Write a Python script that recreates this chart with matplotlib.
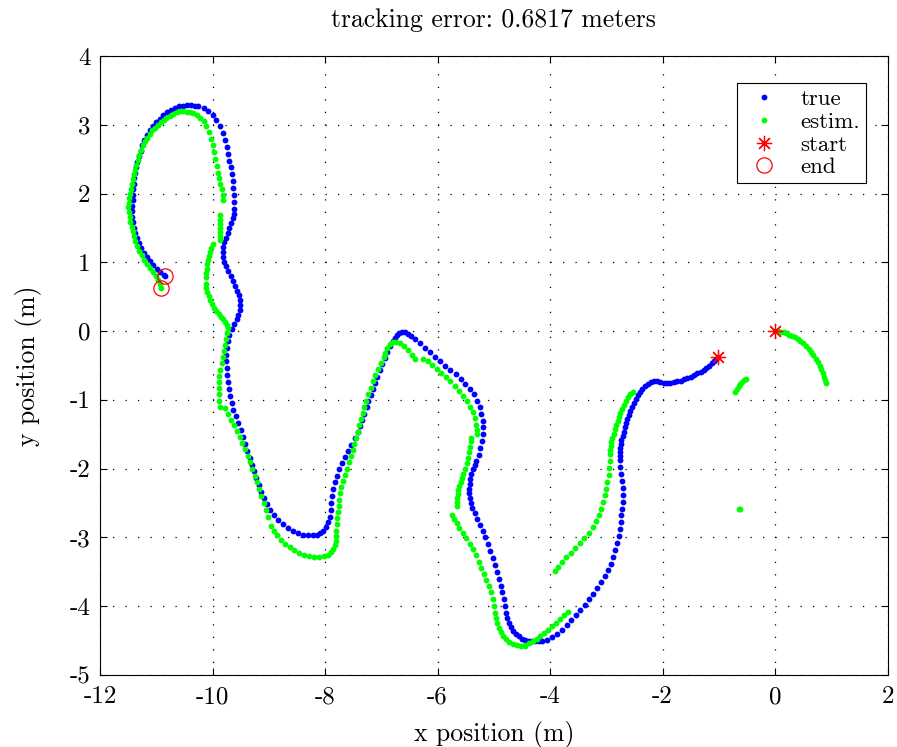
import numpy as np
import matplotlib
matplotlib.use("Agg")
import matplotlib.pyplot as plt

# true trajectory (start -> end)
true_xy = [
    (-1.01, -0.38), (-1.05, -0.41), (-1.09, -0.44), (-1.13, -0.47), (-1.17, -0.50), (-1.22, -0.53),
    (-1.27, -0.56), (-1.32, -0.59), (-1.38, -0.61), (-1.44, -0.64), (-1.50, -0.66), (-1.56, -0.68),
    (-1.62, -0.70), (-1.68, -0.72), (-1.74, -0.73), (-1.80, -0.74), (-1.86, -0.75), (-1.92, -0.75),
    (-1.98, -0.75), (-2.04, -0.74), (-2.10, -0.73), (-2.16, -0.72), (-2.21, -0.74), (-2.26, -0.77),
    (-2.31, -0.80), (-2.36, -0.84), (-2.40, -0.88), (-2.44, -0.93), (-2.48, -0.98), (-2.51, -1.04),
    (-2.54, -1.10), (-2.57, -1.16), (-2.60, -1.22), (-2.63, -1.28), (-2.65, -1.34), (-2.67, -1.40),
    (-2.69, -1.46), (-2.71, -1.52), (-2.73, -1.58), (-2.74, -1.64), (-2.75, -1.70), (-2.76, -1.76),
    (-2.76, -1.82), (-2.76, -1.88), (-2.75, -1.98), (-2.74, -2.08), (-2.72, -2.18), (-2.71, -2.28),
    (-2.71, -2.38), (-2.71, -2.48), (-2.72, -2.58), (-2.73, -2.68), (-2.74, -2.78), (-2.76, -2.88),
    (-2.78, -2.98), (-2.81, -3.08), (-2.84, -3.18), (-2.88, -3.28), (-2.92, -3.38), (-2.97, -3.47),
    (-3.03, -3.56), (-3.09, -3.65), (-3.16, -3.74), (-3.23, -3.82), (-3.30, -3.90), (-3.38, -3.98),
    (-3.46, -4.06), (-3.54, -4.13), (-3.62, -4.20), (-3.70, -4.27), (-3.78, -4.34), (-3.87, -4.40),
    (-3.96, -4.45), (-4.05, -4.49), (-4.14, -4.51), (-4.20, -4.51), (-4.26, -4.51), (-4.32, -4.51),
    (-4.38, -4.50), (-4.44, -4.49), (-4.50, -4.47), (-4.56, -4.44), (-4.61, -4.41), (-4.66, -4.36),
    (-4.70, -4.30), (-4.73, -4.24), (-4.76, -4.17), (-4.78, -4.10), (-4.80, -4.00), (-4.82, -3.90),
    (-4.85, -3.80), (-4.88, -3.70), (-4.91, -3.60), (-4.94, -3.50), (-4.98, -3.40), (-5.02, -3.30),
    (-5.07, -3.20), (-5.11, -3.10), (-5.15, -3.00), (-5.19, -2.91), (-5.24, -2.82), (-5.29, -2.73),
    (-5.34, -2.64), (-5.38, -2.57), (-5.41, -2.50), (-5.43, -2.43), (-5.44, -2.36), (-5.44, -2.29),
    (-5.43, -2.22), (-5.42, -2.15), (-5.40, -2.08), (-5.37, -2.01), (-5.34, -1.95), (-5.31, -1.89),
    (-5.27, -1.80), (-5.24, -1.70), (-5.21, -1.60), (-5.19, -1.50), (-5.19, -1.40), (-5.20, -1.30),
    (-5.22, -1.20), (-5.25, -1.10), (-5.30, -1.01), (-5.36, -0.92), (-5.43, -0.84), (-5.51, -0.77),
    (-5.59, -0.70), (-5.68, -0.63), (-5.77, -0.57), (-5.86, -0.50), (-5.95, -0.44), (-6.04, -0.37),
    (-6.13, -0.31), (-6.22, -0.24), (-6.31, -0.18), (-6.40, -0.12), (-6.48, -0.07), (-6.53, -0.04),
    (-6.58, -0.02), (-6.63, -0.01), (-6.68, -0.03), (-6.72, -0.06), (-6.76, -0.10), (-6.80, -0.15),
    (-6.84, -0.21), (-6.89, -0.30), (-6.94, -0.39), (-6.98, -0.48), (-7.03, -0.57), (-7.07, -0.66),
    (-7.11, -0.75), (-7.15, -0.84), (-7.19, -0.93), (-7.23, -1.02), (-7.26, -1.11), (-7.30, -1.20),
    (-7.34, -1.29), (-7.38, -1.38), (-7.42, -1.47), (-7.47, -1.56), (-7.53, -1.65), (-7.59, -1.74),
    (-7.64, -1.83), (-7.70, -1.92), (-7.75, -2.01), (-7.79, -2.10), (-7.83, -2.20), (-7.86, -2.30),
    (-7.88, -2.40), (-7.89, -2.50), (-7.90, -2.60), (-7.91, -2.70), (-7.94, -2.78), (-7.98, -2.85),
    (-8.03, -2.90), (-8.09, -2.94), (-8.15, -2.96), (-8.21, -2.97), (-8.30, -2.97), (-8.39, -2.96),
    (-8.48, -2.93), (-8.57, -2.90), (-8.66, -2.86), (-8.75, -2.81), (-8.83, -2.75), (-8.91, -2.68),
    (-8.98, -2.60), (-9.04, -2.52), (-9.09, -2.43), (-9.14, -2.34), (-9.18, -2.24), (-9.22, -2.14),
    (-9.26, -2.04), (-9.30, -1.94), (-9.34, -1.84), (-9.38, -1.74), (-9.42, -1.64), (-9.46, -1.54),
    (-9.50, -1.44), (-9.55, -1.34), (-9.59, -1.24), (-9.63, -1.14), (-9.66, -1.04), (-9.69, -0.94),
    (-9.71, -0.84), (-9.73, -0.74), (-9.74, -0.64), (-9.75, -0.54), (-9.76, -0.44), (-9.76, -0.34),
    (-9.75, -0.24), (-9.73, -0.14), (-9.70, -0.05), (-9.66, 0.03), (-9.61, 0.10), (-9.57, 0.17),
    (-9.54, 0.24), (-9.52, 0.31), (-9.51, 0.38), (-9.51, 0.45), (-9.53, 0.52), (-9.56, 0.59),
    (-9.60, 0.66), (-9.64, 0.73), (-9.68, 0.80), (-9.72, 0.87), (-9.76, 0.94), (-9.79, 1.01),
    (-9.81, 1.08), (-9.82, 1.15), (-9.81, 1.22), (-9.79, 1.29), (-9.76, 1.36), (-9.73, 1.43),
    (-9.70, 1.50), (-9.67, 1.57), (-9.64, 1.64), (-9.62, 1.71), (-9.61, 1.78), (-9.61, 1.88),
    (-9.62, 1.98), (-9.63, 2.08), (-9.64, 2.18), (-9.66, 2.28), (-9.68, 2.38), (-9.70, 2.48),
    (-9.72, 2.58), (-9.75, 2.68), (-9.78, 2.78), (-9.82, 2.88), (-9.87, 2.98), (-9.93, 3.07),
    (-10.00, 3.14), (-10.08, 3.20), (-10.16, 3.24), (-10.25, 3.27), (-10.32, 3.28), (-10.39, 3.29),
    (-10.46, 3.29), (-10.53, 3.28), (-10.60, 3.27), (-10.67, 3.25), (-10.74, 3.22), (-10.81, 3.18),
    (-10.88, 3.14), (-10.94, 3.09), (-11.00, 3.04), (-11.06, 2.98), (-11.11, 2.92), (-11.16, 2.85),
    (-11.21, 2.78), (-11.25, 2.70), (-11.28, 2.62), (-11.31, 2.54), (-11.34, 2.46), (-11.36, 2.38),
    (-11.38, 2.30), (-11.39, 2.22), (-11.40, 2.14), (-11.41, 2.06), (-11.42, 1.98), (-11.42, 1.90),
    (-11.43, 1.82), (-11.43, 1.74), (-11.43, 1.66), (-11.42, 1.58), (-11.40, 1.50), (-11.38, 1.42),
    (-11.35, 1.35), (-11.31, 1.28), (-11.27, 1.21), (-11.22, 1.14), (-11.17, 1.08), (-11.11, 1.02),
    (-11.05, 0.96), (-10.99, 0.91), (-10.93, 0.86), (-10.87, 0.82), (-10.84, 0.80),
]

# estimated trajectory (only where the filter had an estimate)
estim_xy = [
    (0.00, 0.00), (0.05, 0.00), (0.10, -0.01), (0.15, -0.02), (0.20, -0.03), (0.25, -0.05),
    (0.30, -0.07), (0.35, -0.09), (0.40, -0.12), (0.45, -0.15), (0.50, -0.18), (0.55, -0.22),
    (0.60, -0.26), (0.64, -0.30), (0.68, -0.35), (0.72, -0.40), (0.76, -0.45), (0.79, -0.50),
    (0.82, -0.55), (0.85, -0.61), (0.87, -0.66), (0.89, -0.71), (0.91, -0.75),
    (-0.71, -0.88), (-0.68, -0.84), (-0.65, -0.80), (-0.62, -0.77), (-0.59, -0.74), (-0.55, -0.71),
    (-0.52, -0.69),
    (-0.65, -2.58), (-0.63, -2.58),
    (-2.53, -0.88), (-2.57, -0.92), (-2.61, -0.96), (-2.65, -1.01), (-2.69, -1.07), (-2.72, -1.13),
    (-2.75, -1.19), (-2.78, -1.25), (-2.80, -1.31), (-2.82, -1.37), (-2.85, -1.43), (-2.87, -1.49),
    (-2.89, -1.55), (-2.91, -1.61), (-2.92, -1.67), (-2.93, -1.73), (-2.93, -1.79), (-2.94, -1.89),
    (-2.95, -1.99), (-2.96, -2.09), (-2.98, -2.19), (-3.00, -2.29), (-3.02, -2.39), (-3.05, -2.49),
    (-3.09, -2.58), (-3.13, -2.67), (-3.18, -2.76), (-3.24, -2.85), (-3.31, -2.93), (-3.39, -3.01),
    (-3.47, -3.08), (-3.55, -3.15), (-3.63, -3.22), (-3.71, -3.29), (-3.79, -3.36), (-3.86, -3.43),
    (-3.91, -3.49),
    (-4.45, -4.56), (-4.38, -4.53), (-4.31, -4.50), (-4.24, -4.47), (-4.17, -4.43), (-4.10, -4.39),
    (-4.03, -4.34), (-3.96, -4.29), (-3.89, -4.24), (-3.82, -4.19), (-3.75, -4.13), (-3.68, -4.08),
    (-4.45, -4.58), (-4.52, -4.58), (-4.59, -4.57), (-4.66, -4.55), (-4.73, -4.52), (-4.79, -4.48),
    (-4.84, -4.43), (-4.88, -4.37), (-4.91, -4.31), (-4.94, -4.24), (-4.96, -4.17), (-4.98, -4.10),
    (-5.00, -4.00), (-5.02, -3.90), (-5.05, -3.80), (-5.09, -3.71), (-5.13, -3.62), (-5.17, -3.53),
    (-5.22, -3.44), (-5.27, -3.35), (-5.32, -3.26), (-5.37, -3.17), (-5.43, -3.09), (-5.49, -3.01),
    (-5.55, -2.93), (-5.61, -2.86), (-5.66, -2.79), (-5.71, -2.73), (-5.75, -2.67),
    (-5.65, -2.55), (-5.65, -2.49), (-5.65, -2.43), (-5.64, -2.37), (-5.63, -2.31), (-5.61, -2.25),
    (-5.59, -2.19), (-5.57, -2.13), (-5.55, -2.08), (-5.51, -2.00), (-5.48, -1.92), (-5.46, -1.84),
    (-5.44, -1.76), (-5.42, -1.68), (-5.41, -1.60), (-5.40, -1.55),
    (-6.25, -0.40), (-6.17, -0.44), (-6.09, -0.49), (-6.01, -0.55), (-5.93, -0.61), (-5.85, -0.67),
    (-5.77, -0.73), (-5.69, -0.80), (-5.62, -0.87), (-5.55, -0.94), (-5.48, -1.02), (-5.42, -1.10),
    (-5.37, -1.18), (-5.33, -1.27), (-5.31, -1.36), (-5.30, -1.44), (-5.29, -1.50),
    (-6.40, -0.40), (-6.46, -0.34), (-6.53, -0.27), (-6.60, -0.21), (-6.67, -0.17), (-6.73, -0.16),
    (-6.79, -0.16), (-6.84, -0.19), (-6.89, -0.25), (-6.94, -0.32), (-6.96, -0.37), (-7.01, -0.46),
    (-7.06, -0.55), (-7.11, -0.64), (-7.15, -0.73), (-7.19, -0.82), (-7.23, -0.91), (-7.27, -1.01),
    (-7.30, -1.10), (-7.33, -1.19), (-7.36, -1.28), (-7.39, -1.37), (-7.42, -1.46), (-7.45, -1.55),
    (-7.48, -1.64), (-7.51, -1.73), (-7.54, -1.82), (-7.57, -1.91), (-7.61, -2.00), (-7.65, -2.09),
    (-7.68, -2.18), (-7.71, -2.27), (-7.73, -2.36), (-7.75, -2.45), (-7.76, -2.54), (-7.77, -2.63),
    (-7.78, -2.72), (-7.79, -2.81), (-7.80, -2.90), (-7.80, -2.98), (-7.81, -3.05), (-7.83, -3.11),
    (-7.86, -3.17), (-7.90, -3.21), (-7.95, -3.25), (-8.02, -3.27), (-8.10, -3.28), (-8.19, -3.28),
    (-8.28, -3.27), (-8.37, -3.25), (-8.46, -3.22), (-8.55, -3.18), (-8.63, -3.14), (-8.71, -3.09),
    (-8.78, -3.03), (-8.85, -2.97), (-8.91, -2.90), (-8.96, -2.84),
    (-9.01, -2.70), (-9.05, -2.60), (-9.09, -2.50), (-9.13, -2.40), (-9.17, -2.30), (-9.21, -2.20),
    (-9.25, -2.10), (-9.29, -2.00), (-9.33, -1.90), (-9.37, -1.81), (-9.42, -1.72), (-9.47, -1.63),
    (-9.52, -1.54), (-9.57, -1.45), (-9.62, -1.37), (-9.67, -1.29), (-9.72, -1.21), (-9.78, -1.12),
    (-9.87, -1.10), (-9.88, -1.01), (-9.89, -0.92), (-9.89, -0.83), (-9.89, -0.74), (-9.88, -0.65),
    (-9.86, -0.56), (-9.84, -0.47), (-9.82, -0.38), (-9.80, -0.29), (-9.78, -0.20), (-9.76, -0.11),
    (-9.74, -0.03), (-9.73, 0.04), (-9.74, 0.09), (-9.77, 0.13), (-9.81, 0.17), (-9.85, 0.21),
    (-9.89, 0.25), (-9.93, 0.29), (-9.97, 0.34), (-10.01, 0.39), (-10.04, 0.45), (-10.07, 0.51),
    (-10.09, 0.57), (-10.11, 0.63), (-10.12, 0.69),
    (-10.11, 0.79), (-10.11, 0.85), (-10.10, 0.91), (-10.09, 0.97), (-10.08, 1.03), (-10.06, 1.09),
    (-10.04, 1.15), (-10.02, 1.21), (-10.00, 1.27),
    (-9.87, 1.32), (-9.87, 1.38), (-9.87, 1.44), (-9.87, 1.50), (-9.87, 1.56), (-9.87, 1.62),
    (-9.87, 1.69),
    (-9.81, 1.90), (-9.82, 1.98), (-9.84, 2.06), (-9.86, 2.14), (-9.88, 2.22), (-9.90, 2.30),
    (-9.92, 2.40), (-9.95, 2.50), (-9.97, 2.60), (-10.00, 2.70), (-10.03, 2.80), (-10.06, 2.90),
    (-10.11, 2.98), (-10.16, 3.05), (-10.22, 3.10), (-10.28, 3.14), (-10.34, 3.17), (-10.40, 3.18),
    (-10.46, 3.19), (-10.52, 3.20), (-10.58, 3.20), (-10.64, 3.18), (-10.70, 3.16), (-10.76, 3.13),
    (-10.82, 3.10), (-10.87, 3.07), (-10.92, 3.04), (-10.97, 3.00), (-11.02, 2.96), (-11.07, 2.92),
    (-11.12, 2.87), (-11.16, 2.81), (-11.20, 2.76), (-11.24, 2.70), (-11.27, 2.63), (-11.30, 2.56),
    (-11.33, 2.49), (-11.36, 2.42), (-11.38, 2.35), (-11.40, 2.28), (-11.42, 2.21), (-11.44, 2.14),
    (-11.45, 2.07), (-11.47, 2.00), (-11.48, 1.93), (-11.49, 1.86), (-11.50, 1.80), (-11.49, 1.73),
    (-11.47, 1.66), (-11.46, 1.59), (-11.44, 1.52), (-11.42, 1.45), (-11.40, 1.38), (-11.37, 1.31),
    (-11.34, 1.24), (-11.30, 1.17), (-11.26, 1.10), (-11.21, 1.04), (-11.16, 0.98), (-11.11, 0.92),
    (-11.06, 0.86), (-11.01, 0.80), (-10.97, 0.74), (-10.94, 0.68), (-10.91, 0.63),
]

start_x = [-1.01, 0.0]
start_y = [-0.38, 0.0]
end_x = [-10.84, -10.91]
end_y = [0.80, 0.63]
err = 0.6817

plt.rcParams["font.family"] = "cmr10"
plt.rcParams["mathtext.fontset"] = "cm"
plt.rcParams["axes.unicode_minus"] = False
plt.rcParams["axes.formatter.use_mathtext"] = False

tx, ty = np.array(true_xy).T
ex, ey = np.array(estim_xy).T

fig = plt.figure(figsize=(8.97, 7.47), dpi=100)
ax = fig.add_axes([0.1115, 0.0964, 0.8780, 0.8286])

ax.plot(tx, ty, "o", color="#0000ff", ms=4.2, mec="none", label="true")
ax.plot(ex, ey, "o", color="#00ff00", ms=4.2, mec="none", label="estim.")
ax.plot(start_x, start_y, ls="none", marker=(8, 2, 0), color="red", ms=11, mew=0.9, label="start")
ax.plot(end_x, end_y, "o", mfc="none", mec="red", ms=11, mew=0.9, label="end")

ax.set_xlim(-12, 2)
ax.set_ylim(-5, 4)
ax.set_xticks(np.arange(-12, 3, 2))
ax.set_yticks(np.arange(-5, 5, 1))
ax.grid(True, color="black", linestyle=(0, (1, 9)), linewidth=0.9)
ax.tick_params(direction="in", top=True, right=True, length=5, labelsize=18)
ax.tick_params(axis="x", pad=8)
ax.tick_params(axis="y", pad=7)
for s in ax.spines.values():
    s.set_linewidth(0.8)

ax.set_xlabel("x position (m)", fontsize=18.5, labelpad=9)
ax.set_ylabel("y position (m)", fontsize=18.5, labelpad=20)
ax.set_title("tracking error: %.4f meters" % err, fontsize=18.5, pad=21)

leg = ax.legend(loc="upper right", bbox_to_anchor=(0.972, 0.956), borderaxespad=0, fontsize=16.5,
                fancybox=False, edgecolor="black", framealpha=1, handlelength=1.8,
                handletextpad=0.7, borderpad=0.25, labelspacing=0.12)
leg.get_frame().set_linewidth(0.8)

fig.savefig("out.png", dpi=100)
